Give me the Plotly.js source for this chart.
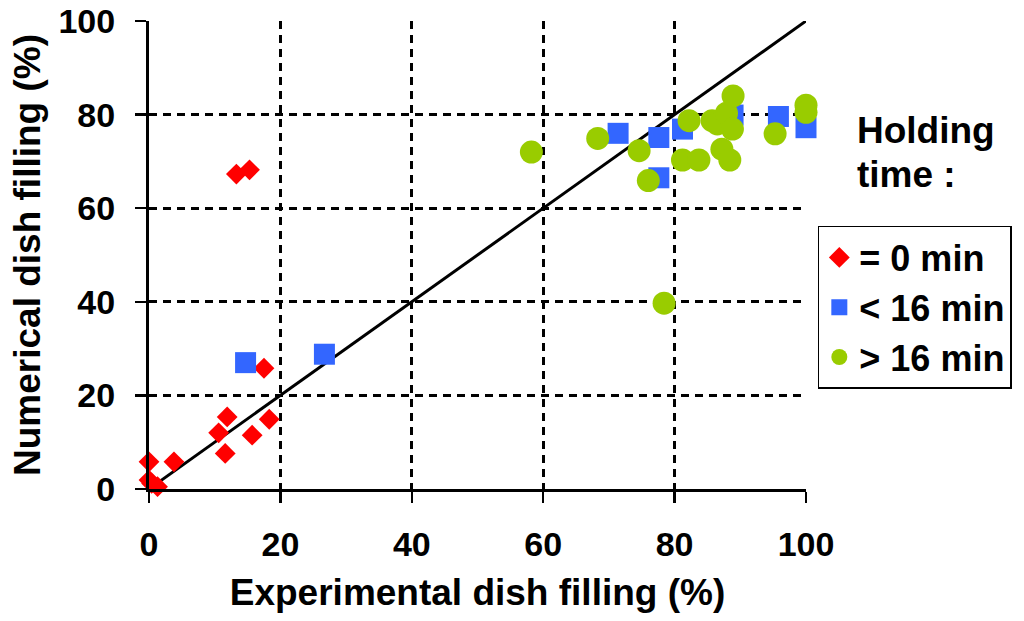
<!DOCTYPE html>
<html>
<head>
<meta charset="utf-8">
<script src="https://cdn.plot.ly/plotly-3.0.1.min.js"></script>
<style>html,body{margin:0;padding:0;background:#fff;}#chart{width:1024px;height:621px;}</style>
</head>
<body>
<div id="chart"></div>
<script>
// = 0 min (red diamonds)
const zeroX = [0, 0, 1.3, 0.4, 3.8, 11.9, 10.6, 11.6, 15.7, 18.3, 17.5, 13.3, 15.3];
const zeroY = [5.8, 1.9, 0.5, 1.2, 5.8, 15.4, 12.0, 7.6, 11.5, 14.9, 25.8, 67.3, 68.2];
// < 16 min (blue squares)
const shortX = [14.7, 26.7, 71.4, 77.6, 77.6, 81.2, 88.9, 95.8, 100.0];
const shortY = [27.0, 28.8, 76.0, 75.1, 66.5, 76.9, 79.9, 79.6, 77.2];
// > 16 min (green circles)
const longX = [58.2, 68.3, 74.6, 76.0, 78.4, 81.2, 83.7, 82.2, 85.7, 86.5, 87.9, 88.9, 88.8, 87.2, 88.4, 95.3, 100.0, 100.0];
const longY = [72.0, 74.9, 72.3, 65.9, 39.7, 70.3, 70.3, 78.7, 78.7, 78.0, 80.3, 84.0, 76.9, 72.6, 70.3, 75.9, 82.0, 80.5];
// y = x reference line
const refX = [0, 101];
const refY = [0, 101];
const tickVals = [0, 20, 40, 60, 80, 100];
const tickText = ['0', '20', '40', '60', '80', '100'];

const FONT = 'Liberation Sans, Arial, sans-serif';

const traces = [
  {x: refX, y: refY, mode: 'lines', line: {color: '#000', width: 3}, showlegend: false, hoverinfo: 'skip', cliponaxis: false},
  {x: zeroX, y: zeroY, mode: 'markers', name: '= 0 min', cliponaxis: false,
   marker: {symbol: 'diamond', size: 16, color: '#FF0000'}},
  {x: shortX, y: shortY, mode: 'markers', name: '< 16 min', cliponaxis: false,
   marker: {symbol: 'square', size: 21, color: '#3366FF'}},
  {x: longX, y: longY, mode: 'markers', name: '> 16 min', cliponaxis: false,
   marker: {symbol: 'circle', size: 23, color: '#99CC00'}}
];

const axisCommon = {
  range: [0, 100], autorange: false,
  tickvals: tickVals, ticktext: tickText,
  showline: true, linecolor: '#000', linewidth: 3,
  ticks: 'outside', ticklen: 11, tickwidth: 2.5, tickcolor: '#000',
  showgrid: true, gridcolor: '#000', gridwidth: 3, griddash: '8px,6px',
  zeroline: false, automargin: false,
  tickfont: {family: FONT, size: 34, color: '#000', weight: 'bold'}
};

const layout = {
  width: 1024, height: 621,
  margin: {l: 149, r: 216, t: 21, b: 132},
  paper_bgcolor: '#fff', plot_bgcolor: '#fff',
  font: {family: FONT, color: '#000'},
  xaxis: Object.assign({}, axisCommon, {
    ticklabelstandoff: 12,
    title: {text: 'Experimental dish filling (%)', standoff: 18,
            font: {family: FONT, size: 37, color: '#000', weight: 'bold'}}
  }),
  yaxis: Object.assign({}, axisCommon, {
    ticklabelstandoff: 13,
    title: {text: 'Numerical dish filling (%)', standoff: 7,
            font: {family: FONT, size: 37, color: '#000', weight: 'bold'}}
  }),
  yaxis2: {
    overlaying: 'y', side: 'left', range: [0, 100], autorange: false,
    tickvals: tickVals, showticklabels: false, showgrid: false, showline: false, zeroline: false,
    ticks: 'inside', ticklen: 4, tickwidth: 2.5, tickcolor: '#000'
  },
  legend: {
    x: 1.018, y: 0.562, xanchor: 'left', yanchor: 'top',
    bordercolor: '#000', borderwidth: 1.5, bgcolor: '#fff',
    font: {family: FONT, size: 36, color: '#000', weight: 'bold'},
    tracegroupgap: 0
  },
  annotations: [
    {text: 'Holding', xref: 'paper', yref: 'paper', x: 1.074, y: 0.767, xanchor: 'left', yanchor: 'middle',
     showarrow: false, font: {family: FONT, size: 37, color: '#000', weight: 'bold'}},
    {text: 'time :', xref: 'paper', yref: 'paper', x: 1.074, y: 0.671, xanchor: 'left', yanchor: 'middle',
     showarrow: false, font: {family: FONT, size: 37, color: '#000', weight: 'bold'}}
  ],
  showlegend: true
};

Plotly.newPlot('chart', traces, layout, {staticPlot: true, displayModeBar: false});
</script>
</body>
</html>
